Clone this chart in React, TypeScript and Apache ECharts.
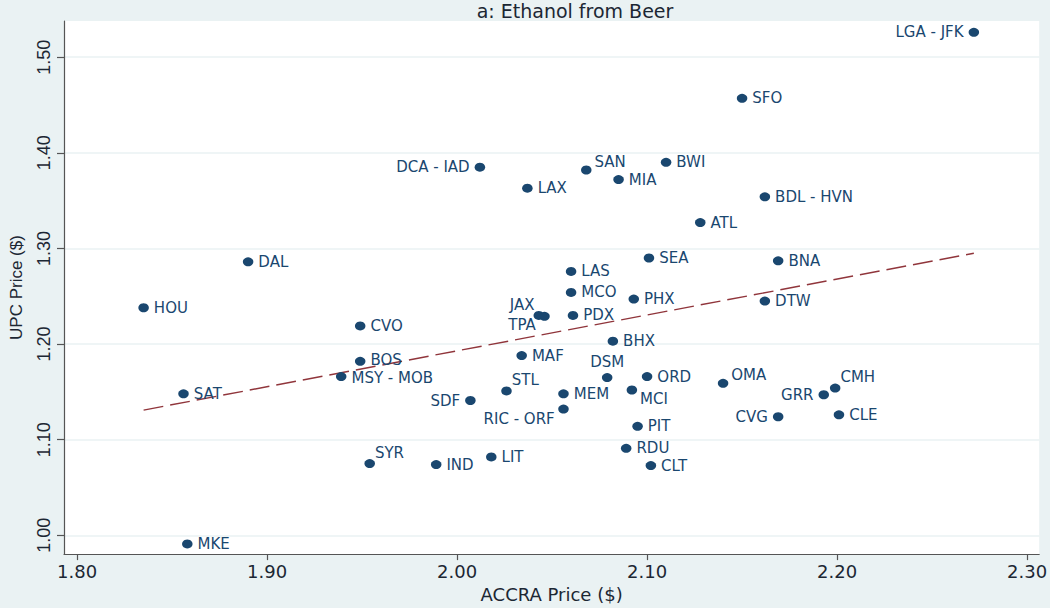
import React, { useEffect, useRef } from "react";
import * as echarts from "echarts";

const airports = ["LGA - JFK","SFO","DCA - IAD","SAN","BWI","MIA","LAX","BDL - HVN","ATL","SEA","BNA","DAL","LAS","MCO","PHX","DTW","HOU","JAX","TPA","PDX","CVO","BHX","MAF","BOS","DSM","ORD","MSY - MOB","OMA","CMH","MCI","STL","MEM","SAT","GRR","SDF","RIC - ORF","CLE","CVG","PIT","RDU","LIT","SYR","IND","CLT","MKE"];
const accraPrice = [2.272,2.150,2.012,2.068,2.110,2.085,2.037,2.162,2.128,2.101,2.169,1.890,2.060,2.060,2.093,2.162,1.835,2.043,2.046,2.061,1.949,2.082,2.034,1.949,2.079,2.100,1.939,2.140,2.199,2.092,2.026,2.056,1.856,2.193,2.007,2.056,2.201,2.169,2.095,2.089,2.018,1.954,1.989,2.102,1.858];
const upcPrice = [1.526,1.457,1.385,1.382,1.390,1.372,1.363,1.354,1.327,1.290,1.287,1.286,1.276,1.254,1.247,1.245,1.238,1.230,1.229,1.230,1.219,1.203,1.188,1.182,1.165,1.166,1.166,1.159,1.154,1.152,1.151,1.148,1.148,1.147,1.141,1.132,1.126,1.124,1.114,1.091,1.082,1.075,1.074,1.073,0.991];

const fitX = [1.835, 2.272];
const fitY = [1.131, 1.295];

const xTicks = [1.8, 1.9, 2.0, 2.1, 2.2, 2.3];
const yTicks = [1.0, 1.1, 1.2, 1.3, 1.4, 1.5];

const labelPlacement: Record<string, { position: string; offset: [number, number] }> = {
  "LGA - JFK": { position: "left", offset: [0, 0] },
  "DCA - IAD": { position: "left", offset: [0, 0] },
  SDF: { position: "left", offset: [0, 0] },
  GRR: { position: "left", offset: [0, 0] },
  CVG: { position: "left", offset: [0, 0] },
  SAN: { position: "right", offset: [-2, -8] },
  STL: { position: "right", offset: [-5, -11] },
  OMA: { position: "right", offset: [-2, -8] },
  CMH: { position: "right", offset: [-5, -11] },
  SYR: { position: "right", offset: [-5, -11] },
  MCI: { position: "right", offset: [-2, 9] },
  JAX: { position: "left", offset: [6, -10] },
  TPA: { position: "left", offset: [1.5, 9] },
  "RIC - ORF": { position: "left", offset: [1.5, 9.5] },
  DSM: { position: "top", offset: [0, 1] },
  BOS: { position: "right", offset: [0, -1] },
  "MSY - MOB": { position: "right", offset: [0, 1] },
};

const NAVY = "#1a476f";
const TEXT = "#1c2733";
const BG = "#eaf2f3";

export default function App() {
  const ref = useRef<HTMLDivElement>(null);
  useEffect(() => {
    if (!ref.current) return;
    const chart = echarts.init(ref.current, undefined, { renderer: "svg" });
    const points = airports.map((name, i) => {
      const p = labelPlacement[name] || { position: "right", offset: [0, 0] };
      return {
        name,
        value: [accraPrice[i], upcPrice[i]],
        label: { position: p.position, offset: p.offset },
      };
    });
    chart.setOption({
      animation: false,
      backgroundColor: BG,
      graphic: [
        {
          type: "text",
          x: 575,
          y: 11,
          style: {
            text: "a: Ethanol from Beer",
            fill: TEXT,
            font: "19px 'DejaVu Sans'",
            textAlign: "center",
            textVerticalAlign: "middle",
          },
        },
      ],
      grid: {
        left: 57,
        right: 7,
        top: 21,
        bottom: 46,
        show: true,
        backgroundColor: "#ffffff",
        borderWidth: 0,
      },
      xAxis: {
        type: "value",
        min: 1.7931,
        max: 2.3064,
        name: "ACCRA Price ($)",
        nameLocation: "middle",
        nameGap: 28,
        nameTextStyle: { color: TEXT, fontFamily: "DejaVu Sans", fontSize: 18 },
        axisLine: { show: true, lineStyle: { color: "#555", width: 1.2 } },
        axisTick: { show: true, length: 6, lineStyle: { color: "#555", width: 1.2 }, customValues: xTicks },
        axisLabel: {
          customValues: xTicks,
          formatter: (v: number) => v.toFixed(2),
          color: TEXT,
          fontFamily: "DejaVu Sans",
          fontSize: 18,
          margin: 8,
        },
        splitLine: { show: false },
      },
      yAxis: {
        type: "value",
        min: 0.9804,
        max: 1.5378,
        name: "UPC Price ($)",
        nameLocation: "middle",
        nameGap: 39,
        nameTextStyle: { color: TEXT, fontFamily: "Liberation Sans", fontSize: 17 },
        axisLine: { show: true, lineStyle: { color: "#555", width: 1.2 } },
        axisTick: { show: true, length: 7, lineStyle: { color: "#555", width: 1.2 }, customValues: yTicks },
        axisLabel: {
          customValues: yTicks,
          formatter: (v: number) => v.toFixed(2),
          rotate: 90,
          color: TEXT,
          fontFamily: "Liberation Sans",
          fontSize: 18,
          margin: 11,
        },
        splitLine: { show: false },
      },
      series: [
        {
          type: "line",
          z: 0,
          data: [],
          silent: true,
          markLine: {
            silent: true,
            z: 0,
            symbol: "none",
            label: { show: false },
            lineStyle: { color: BG, width: 1.5, type: "solid" },
            data: yTicks.map((v) => ({ yAxis: v })),
          },
        },
        {
          type: "line",
          z: 2,
          data: fitX.map((x, i) => [x, fitY[i]]),
          showSymbol: false,
          symbol: "none",
          lineStyle: { color: "#90353b", width: 1.4, type: [20, 7] },
          silent: true,
        },
        {
          type: "scatter",
          z: 3,
          data: points,
          symbol: "circle",
          symbolSize: [10.5, 9],
          itemStyle: { color: NAVY, opacity: 1 },
          label: {
            show: true,
            formatter: "{b}",
            position: "right",
            distance: 5,
            color: NAVY,
            fontFamily: "DejaVu Sans",
            fontSize: 15,
          },
        },
      ],
    });
    return () => chart.dispose();
  }, []);
  return (
    <div
      ref={ref}
      style={{ position: "fixed", left: 0, top: 0, width: 1050, height: 608 }}
    />
  );
}
